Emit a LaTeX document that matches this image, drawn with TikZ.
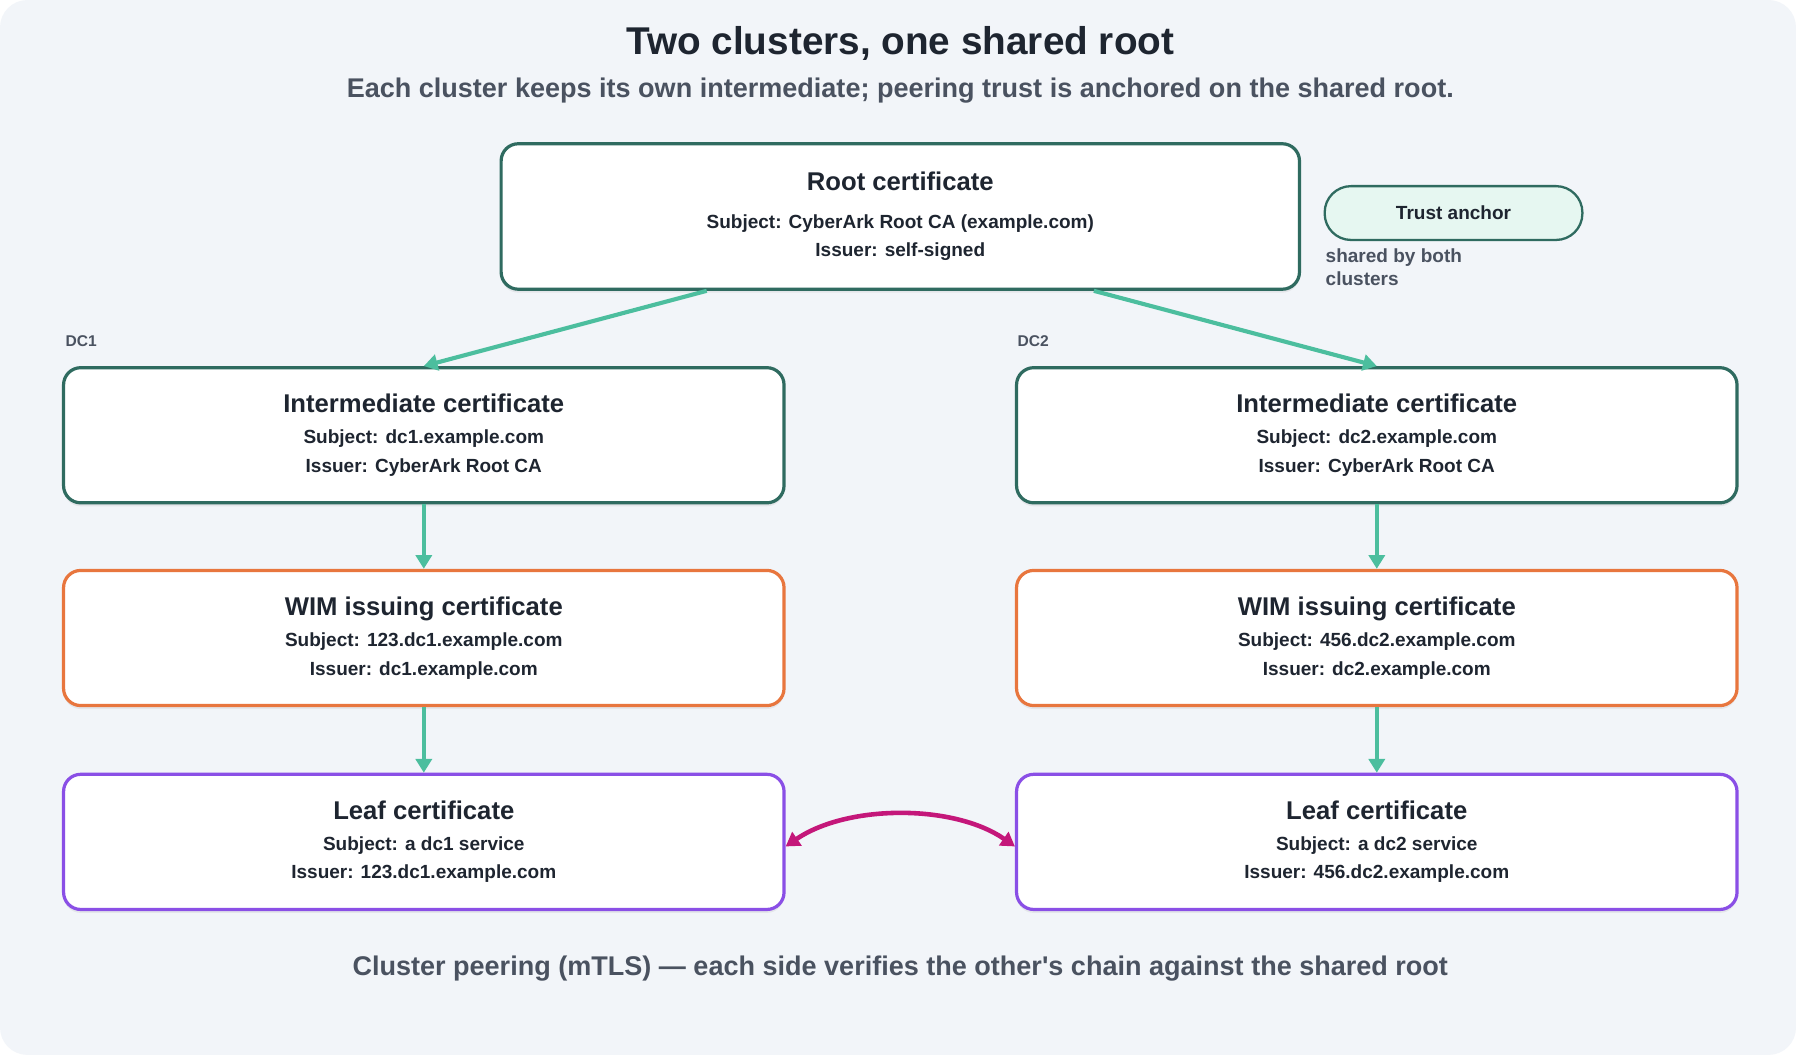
\documentclass[tikz,border=0pt]{standalone}
\usepackage{fontspec}
\setmainfont{Liberation Sans}
\usetikzlibrary{positioning,arrows.meta,shadows}
\definecolor{bgc}{HTML}{F2F5F9}
\definecolor{tealdk}{HTML}{2F6B60}
\definecolor{tealar}{HTML}{4CBE9E}
\definecolor{mint}{HTML}{E6F7F1}
\definecolor{orng}{HTML}{E8763E}
\definecolor{purp}{HTML}{8A4FE6}
\definecolor{magn}{HTML}{C4177A}
\definecolor{inkc}{HTML}{1E2530}
\definecolor{grayc}{HTML}{4A5260}

\begin{document}
\begin{tikzpicture}[x=0.5pt, y=-0.5pt,
	box/.style={draw, line width=1.4pt, rounded corners=7.5pt, fill=white,
		minimum width=314.5pt, minimum height=59pt, align=center,
		text=inkc, font=\fontsize{8.3}{12.5}\selectfont\bfseries,
		drop shadow={shadow xshift=0pt, shadow yshift=-1.5pt, opacity=0.12}},
	arr/.style={-{Triangle[length=6pt,width=7pt]}, tealar, line width=1.8pt}]
	% background
	\fill[white] (0,0) rectangle (1568,921);
	\fill[bgc, rounded corners=12pt] (0,0) rectangle (1568,921);
	\useasboundingbox (0,0) rectangle (1568,921);

	% titles
	\node[text=inkc, font=\fontsize{16.9}{20}\selectfont\bfseries] (title) at (786,38) {Two clusters, one shared root};
	\node[text=grayc, font=\fontsize{11.8}{14}\selectfont\bfseries] (sub) at (786,79) {Each cluster keeps its own intermediate; peering trust is anchored on the shared root.};

	% root
	\node[box, draw=tealdk, minimum width=348.5pt, minimum height=63.5pt] (root) at (786,189)
		{{\fontsize{11.2}{13}\selectfont Root certificate}\\[4pt] Subject: CyberArk Root CA (example.com)\\ Issuer: self-signed};
	\node[draw=tealdk, fill=mint, line width=1pt, rounded corners=11.5pt, minimum width=112.5pt,
		minimum height=23.5pt, text=inkc, font=\fontsize{8.3}{10}\selectfont\bfseries] (anchor) at (1269,186) {Trust anchor};
	\node[anchor=north west, align=left, inner sep=0pt, text=grayc, font=\fontsize{8.3}{10}\selectfont\bfseries] (anchortxt) at (1157,217) {shared by both\\clusters};

	% cluster labels
	\node[anchor=west, inner sep=0pt, text=grayc, font=\fontsize{6.8}{8}\selectfont\bfseries] (dc1) at (57,298) {DC1};
	\node[anchor=west, inner sep=0pt, text=grayc, font=\fontsize{6.8}{8}\selectfont\bfseries] (dc2) at (888,298) {DC2};

	% DC1 chain
	\node[box, draw=tealdk] (int1) at (370,380)
		{{\fontsize{11.2}{13}\selectfont Intermediate certificate}\\[1pt] Subject: dc1.example.com\\ Issuer: CyberArk Root CA};
	\node[box, draw=orng] (wim1) at (370,557)
		{{\fontsize{11.2}{13}\selectfont WIM issuing certificate}\\[1pt] Subject: 123.dc1.example.com\\ Issuer: dc1.example.com};
	\node[box, draw=purp] (leaf1) at (370,735)
		{{\fontsize{11.2}{13}\selectfont Leaf certificate}\\[1pt] Subject: a dc1 service\\ Issuer: 123.dc1.example.com};

	% DC2 chain
	\node[box, draw=tealdk] (int2) at (1202,380)
		{{\fontsize{11.2}{13}\selectfont Intermediate certificate}\\[1pt] Subject: dc2.example.com\\ Issuer: CyberArk Root CA};
	\node[box, draw=orng] (wim2) at (1202,557)
		{{\fontsize{11.2}{13}\selectfont WIM issuing certificate}\\[1pt] Subject: 456.dc2.example.com\\ Issuer: dc2.example.com};
	\node[box, draw=purp] (leaf2) at (1202,735)
		{{\fontsize{11.2}{13}\selectfont Leaf certificate}\\[1pt] Subject: a dc2 service\\ Issuer: 456.dc2.example.com};

	% connectors
	\draw[arr] ([xshift=-84.5pt]root.south) -- (int1.north);
	\draw[arr] ([xshift=84.5pt]root.south) -- (int2.north);
	\draw[arr] (int1) -- (wim1);
	\draw[arr] (wim1) -- (leaf1);
	\draw[arr] (int2) -- (wim2);
	\draw[arr] (wim2) -- (leaf2);
	\draw[{Triangle[length=6pt,width=7pt]}-{Triangle[length=6pt,width=7pt]}, magn, line width=2pt]
		([yshift=-2pt]leaf1.east) .. controls (740,702) and (833,702) .. ([yshift=-2pt]leaf2.west);

	\node[text=grayc, font=\fontsize{11.8}{14}\selectfont\bfseries] (foot) at (786,846)
		{Cluster peering (mTLS) — each side verifies the other\textquotesingle s chain against the shared root};
\end{tikzpicture}
\end{document}
